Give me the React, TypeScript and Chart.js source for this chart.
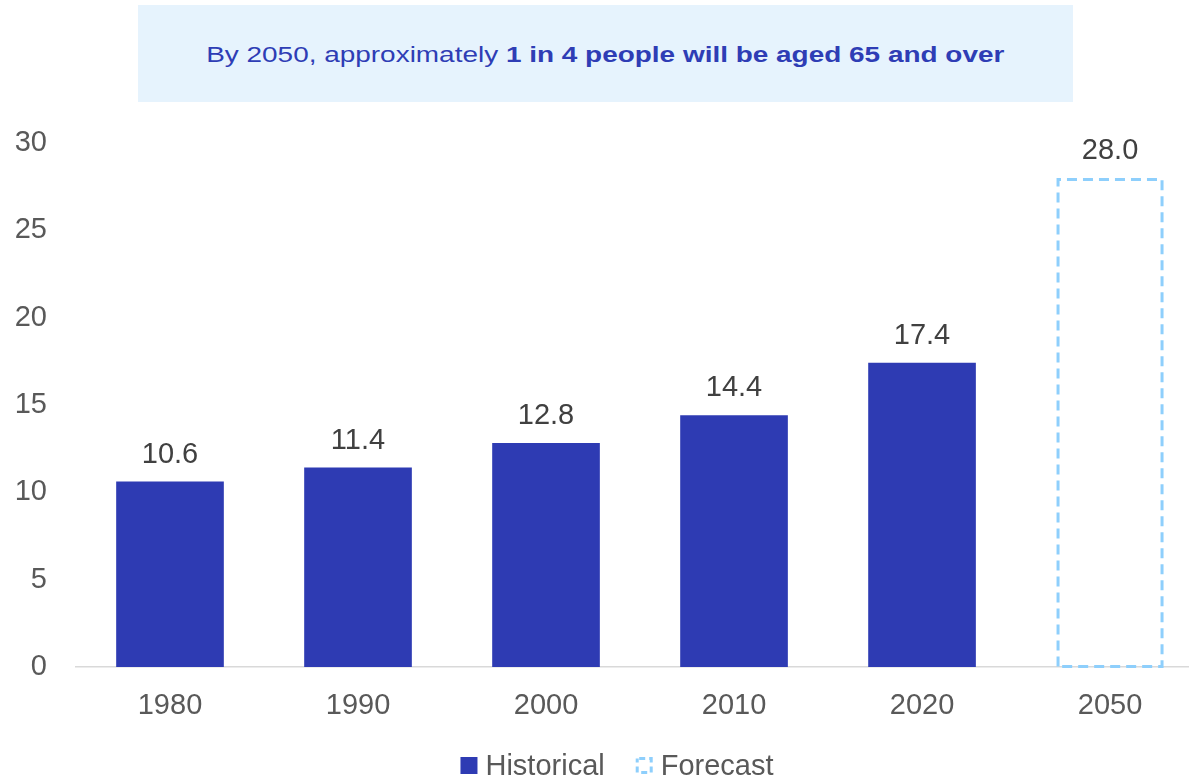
import React, { useEffect, useRef } from "react";
import { Chart, registerables } from "chart.js";

Chart.register(...registerables);

const YEARS = ["1980", "1990", "2000", "2010", "2020", "2050"];
const HISTORICAL: (number | null)[] = [10.6, 11.4, 12.8, 14.4, 17.4, null];
const FORECAST: (number | null)[] = [null, null, null, null, null, 28.0];
const Y_TICKS = [0, 5, 10, 15, 20, 25, 30];
const SERIES_NAMES = ["Historical", "Forecast"];

const FONT = "'Liberation Sans', Arial, Helvetica, sans-serif";
const DARK_BLUE = "#2e3bb3";
const LIGHT_BLUE = "#8ecffc";
const TEXT_GREY = "#595959";
const LABEL_GREY = "#404040";

const valueLabels = {
  id: "valueLabels",
  afterDatasetsDraw(chart: any) {
    const ctx = chart.ctx;
    ctx.save();
    ctx.font = `29px ${FONT}`;
    ctx.fillStyle = LABEL_GREY;
    ctx.textAlign = "center";
    ctx.textBaseline = "middle";
    chart.data.datasets.forEach((ds: any, di: number) => {
      const meta = chart.getDatasetMeta(di);
      meta.data.forEach((el: any, i: number) => {
        const raw = ds.data[i];
        if (!raw || raw.y == null) return;
        ctx.fillText(raw.y.toFixed(1), el.x, el.y - 27);
      });
    });
    ctx.restore();
  },
};

const dashedForecast = {
  id: "dashedForecast",
  afterDatasetsDraw(chart: any) {
    const ctx = chart.ctx;
    const meta = chart.getDatasetMeta(1);
    ctx.save();
    ctx.strokeStyle = LIGHT_BLUE;
    ctx.lineWidth = 3;
    ctx.setLineDash([10, 6]);
    meta.data.forEach((el: any, i: number) => {
      const raw = chart.data.datasets[1].data[i];
      if (!raw || raw.y == null) return;
      const w = el.width;
      const left = el.x - w / 2 + 1.5;
      const right = el.x + w / 2 - 1.5;
      const top = el.y + 1.5;
      const bottom = el.base - 0.5;
      ctx.beginPath();
      ctx.moveTo(left, bottom);
      ctx.lineTo(left, top);
      ctx.lineTo(right, top);
      ctx.lineTo(right, bottom);
      ctx.closePath();
      ctx.stroke();
    });
    ctx.restore();
  },
};

const customLegend = {
  id: "customLegend",
  afterDraw(chart: any) {
    const ctx = chart.ctx;
    ctx.save();
    ctx.font = `29px ${FONT}`;
    ctx.textBaseline = "middle";
    const box = 17;
    const gap = 8;
    const itemGap = 31;
    const names = chart.data.datasets.map((d: any) => d.label);
    const widths = names.map((n: string) => box + gap + ctx.measureText(n).width);
    const total = widths.reduce((a: number, b: number) => a + b, 0) + itemGap * (names.length - 1);
    const centerX = 617;
    const cy = 765.5;
    let x = centerX - total / 2;
    names.forEach((n: string, i: number) => {
      if (i === 0) {
        ctx.fillStyle = DARK_BLUE;
        ctx.fillRect(x, cy - box / 2, box, box);
      } else {
        ctx.strokeStyle = LIGHT_BLUE;
        ctx.lineWidth = 3;
        ctx.setLineDash([6, 4]);
        ctx.lineDashOffset = -2;
        ctx.strokeRect(x + 1.5, cy - box / 2 + 1.5, box - 3, box - 3);
        ctx.setLineDash([]);
      }
      ctx.fillStyle = TEXT_GREY;
      ctx.textAlign = "left";
      ctx.fillText(n, x + box + gap, cy + 1);
      x += widths[i] + itemGap;
    });
    ctx.restore();
  },
};

export default function App() {
  const ref = useRef<HTMLCanvasElement | null>(null);

  useEffect(() => {
    if (!ref.current) return;
    const chart = new Chart(ref.current, {
      type: "bar",
      data: {
        datasets: [
          {
            label: SERIES_NAMES[0],
            data: HISTORICAL.map((v, i) => ({ x: i, y: v })) as any,
            backgroundColor: DARK_BLUE,
            borderWidth: 0,
            barThickness: 107,
            grouped: false,
          },
          {
            label: SERIES_NAMES[1],
            data: FORECAST.map((v, i) => ({ x: i, y: v })) as any,
            backgroundColor: "rgba(0,0,0,0)",
            borderWidth: 0,
            barThickness: 107,
            grouped: false,
          },
        ],
      },
      options: {
        animation: false,
        responsive: false,
        maintainAspectRatio: false,
        layout: { padding: { top: 143, left: 0, right: 0, bottom: 0 } },
        plugins: {
          legend: { display: false },
          tooltip: { enabled: false },
          title: { display: false },
        },
        scales: {
          x: {
            type: "linear",
            offset: false,
            min: -0.5,
            max: 5.42,
            grid: { display: false, drawTicks: false },
            border: { display: true, color: "#d9d9d9", width: 1.5 },
            afterBuildTicks: (s: any) => {
              s.ticks = YEARS.map((_, i) => ({ value: i }));
            },
            afterFit: (s: any) => {
              s.height = 778 - 667;
            },
            ticks: {
              autoSkip: false,
              maxRotation: 0,
              padding: 22,
              color: TEXT_GREY,
              font: { family: FONT, size: 29 },
              callback: (v: any) => YEARS[Math.round(Number(v))] ?? "",
            },
          },
          y: {
            min: 0,
            max: 30,
            grid: { display: false, drawTicks: false },
            border: { display: false },
            afterBuildTicks: (s: any) => {
              s.ticks = Y_TICKS.map((v) => ({ value: v }));
            },
            afterFit: (s: any) => {
              s.width = 76;
            },
            ticks: {
              padding: 29,
              color: TEXT_GREY,
              font: { family: FONT, size: 29 },
            },
          },
        },
      },
      plugins: [valueLabels, dashedForecast, customLegend],
    });
    return () => chart.destroy();
  }, []);

  return (
    <div
      style={{
        position: "fixed",
        left: 0,
        top: 0,
        width: 1189,
        height: 778,
        background: "#ffffff",
        overflow: "hidden",
      }}
    >
      <div
        style={{
          position: "absolute",
          left: 138,
          top: 5,
          width: 935,
          height: 97,
          background: "#e6f3fd",
          display: "flex",
          alignItems: "center",
          justifyContent: "center",
          fontFamily: FONT,
          fontSize: 22,
          color: "#2e3db5",
          whiteSpace: "nowrap",
        }}
      >
        <span style={{ display: "inline-block", transform: "scaleX(1.27)", transformOrigin: "center", marginTop: 2 }}>
          By 2050, approximately <b>1 in 4 people will be aged 65 and over</b>
        </span>
      </div>
      <canvas
        ref={ref}
        width={1189}
        height={778}
        style={{ position: "absolute", left: 0, top: 0, width: 1189, height: 778 }}
      />
    </div>
  );
}
